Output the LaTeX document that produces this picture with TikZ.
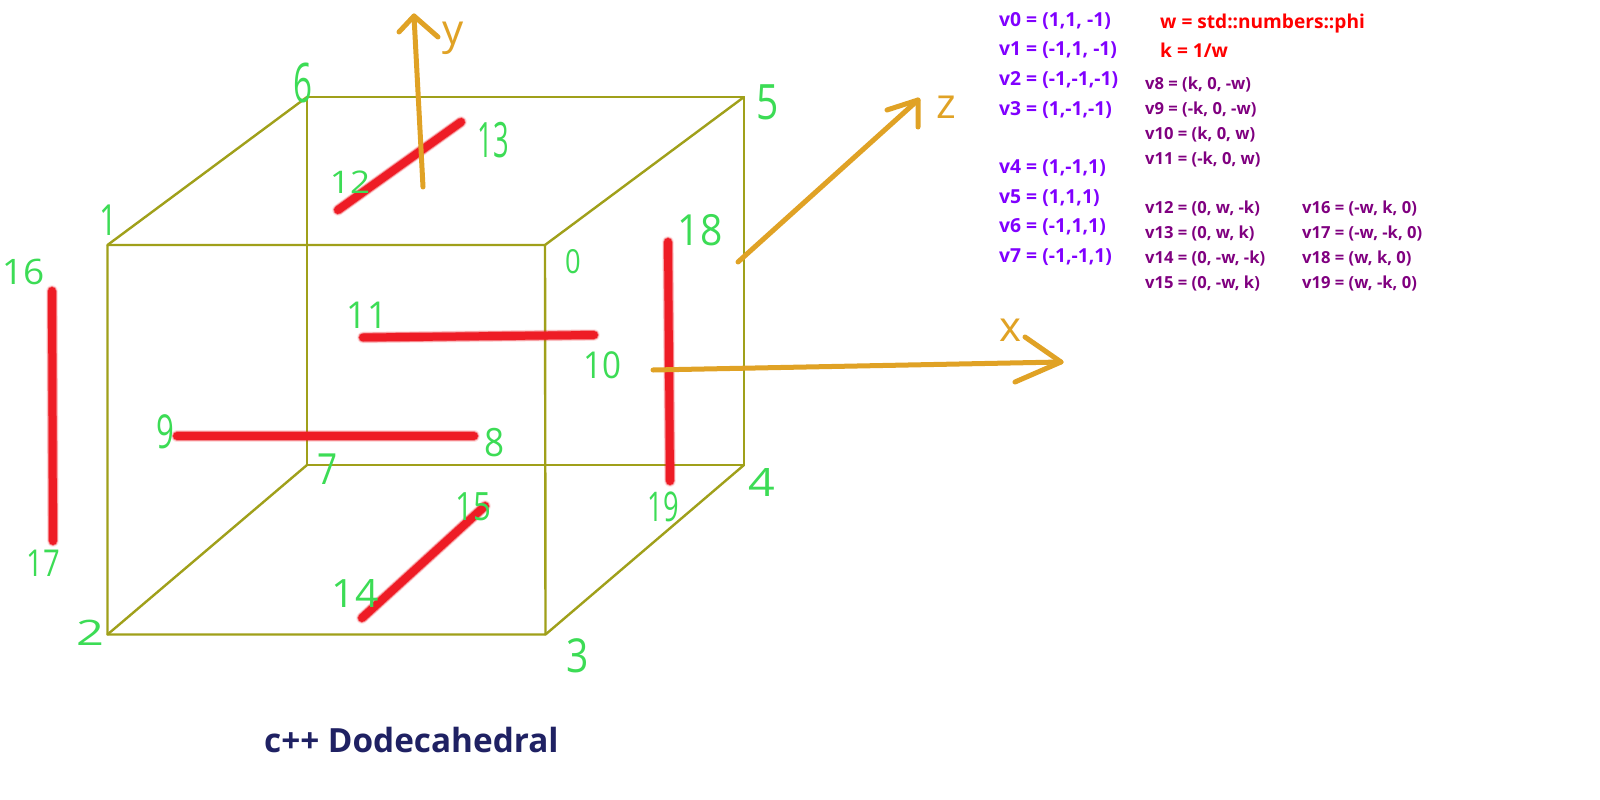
\documentclass[tikz,border=0pt]{standalone}
\usepackage{graphicx}
\usepackage{fontspec}
\setmainfont{Open Sans}
\newcommand{\dgt}[3]{\scalebox{#1}[#2]{#3}}
\begin{document}
\begin{tikzpicture}[x=1pt,y=-1pt,
  edge/.style={draw=cubeol,line width=2.4pt,line cap=round,line join=round},
  redglowa/.style={draw=redbar,line width=11.5pt,line cap=round,opacity=0.15},
  redglowb/.style={draw=redbar,line width=9.8pt,line cap=round,opacity=0.45},
  redcore/.style={draw=redbar,line width=8pt,line cap=round},
  axis/.style={draw=axisor,line width=5pt,line cap=round,line join=round},
  axlabel/.style={text=axisor,font=\fontsize{42}{42}\selectfont,inner sep=0pt},
  digit/.style={text=digitgr,font=\fontsize{39}{40}\selectfont,inner sep=0pt},
  vmain/.style={anchor=base west,inner sep=0pt,text=vpurple,font=\fontsize{19.3}{22}\selectfont\bfseries},
  vred/.style={anchor=base west,inner sep=0pt,text=red,font=\fontsize{19.1}{22}\selectfont\bfseries},
  vsub/.style={anchor=base west,inner sep=0pt,text=vdark,font=\fontsize{16.6}{18}\selectfont\bfseries},
  title/.style={anchor=base west,inner sep=0pt,text=titleblue,font=\fontsize{33.3}{36}\selectfont\bfseries}]
\definecolor{cubeol}{HTML}{A0A01A}
\definecolor{redbar}{HTML}{EE1C25}
\definecolor{axisor}{HTML}{E0A225}
\definecolor{digitgr}{HTML}{3CDC55}
\definecolor{vpurple}{HTML}{8000FF}
\definecolor{vdark}{HTML}{800080}
\definecolor{titleblue}{HTML}{1F2163}
\useasboundingbox[fill=white] (0,0) rectangle (1600,800);
% cube corners
\coordinate (c0) at (545,245);
\coordinate (c1) at (107.5,245);
\coordinate (c2) at (107.5,634.5);
\coordinate (c3) at (545.5,634.5);
\coordinate (c4) at (744,465);
\coordinate (c5) at (744,97);
\coordinate (c6) at (307,97);
\coordinate (c7) at (307,465);
\draw[edge] (c1) -- (c0) -- (c3) -- (c2) -- cycle;
\draw[edge] (c6) -- (c5) -- (c4) -- (c7) -- cycle;
\draw[edge] (c1) -- (c6);
\draw[edge] (c0) -- (c5);
\draw[edge] (c2) -- (c7);
\draw[edge] (c3) -- (c4);
% red bars
\coordinate (r16) at (52,291);
\coordinate (r17) at (53,541);
\coordinate (r9) at (177,436);
\coordinate (r8) at (474,436);
\coordinate (r11) at (363,337.5);
\coordinate (r10) at (594,335);
\coordinate (r18) at (668,242);
\coordinate (r19) at (670,481);
\coordinate (r12) at (338,210);
\coordinate (r13) at (461,122);
\coordinate (r14) at (362,618);
\coordinate (r15) at (485,506);
\foreach \a/\b in {r16/r17,r9/r8,r11/r10,r18/r19,r12/r13,r14/r15}{
  \draw[redglowa] (\a) -- (\b);
  \draw[redglowb] (\a) -- (\b);
  \draw[redcore] (\a) -- (\b);
}
% axes
\coordinate (ys) at (423,187);
\coordinate (yt) at (414,16);
\coordinate (yh1) at (399,32);
\coordinate (yh2) at (438,37);
\coordinate (zs) at (738,262);
\coordinate (zt) at (918,100);
\coordinate (zh1) at (887,110);
\coordinate (zh2) at (918,127);
\coordinate (xs) at (653,370);
\coordinate (xt) at (1061,362);
\coordinate (xh1) at (1025,337);
\coordinate (xh2) at (1015,382);
\draw[axis] (ys) -- (yt);
\draw[axis] (yh1) -- (yt) -- (yh2);
\draw[axis] (zs) -- (zt);
\draw[axis] (zh1) -- (zt) -- (zh2);
\draw[axis] (xs) -- (xt);
\draw[axis] (xh1) -- (xt) -- (xh2);
\node[axlabel] (ly) at (453,38) {y};
\node[axlabel] (lz) at (946,107) {z};
\node[axlabel] (lx) at (1010,330) {x};
% digits
\node[digit] (d0) at (573,262) {\dgt{.7}{.85}{0}};
\node[digit] (d1) at (108,220) {\dgt{.8}{1.1}{1}};
\node[digit] (d2) at (90,633) {\dgt{1.25}{.9}{2}};
\node[digit] (d3) at (578,656) {\dgt{1}{1.2}{3}};
\node[digit] (d4) at (762,482) {\dgt{1.2}{1}{4}};
\node[digit] (d5) at (768,102) {\dgt{1}{1.25}{5}};
\node[digit] (d6) at (303,83) {\dgt{.85}{1.4}{6}};
\node[digit] (d7) at (328,469) {\dgt{.9}{1.1}{7}};
\node[digit] (d8) at (495,443) {\dgt{.9}{1}{8}};
\node[digit] (d9) at (165,432) {\dgt{.8}{1.2}{9}};
\node[digit] (d10) at (602,365) {\dgt{.85}{.95}{10}};
\node[digit] (d11) at (367,315) {\dgt{.9}{.95}{11}};
\node[digit] (d12) at (350,182) {\dgt{.9}{.8}{12}};
\node[digit] (d13) at (493,140) {\dgt{.7}{1.25}{13}};
\node[digit] (d14) at (355,593) {\dgt{1.05}{1}{14}};
\node[digit] (d15) at (473,507) {\dgt{.8}{1}{15}};
\node[digit] (d16) at (23,272) {\dgt{.95}{.9}{16}};
\node[digit] (d17) at (43,563) {\dgt{.75}{.95}{17}};
\node[digit] (d18) at (700,230) {\dgt{1}{1.1}{18}};
\node[digit] (d19) at (663,507) {\dgt{.7}{1.05}{19}};
% text
\node[vmain] (v0) at (999,27) {v0 = (1,1, -1)};
\node[vmain] (v1) at (999,56) {v1 = (-1,1, -1)};
\node[vmain] (v2) at (999,85) {v2 = (-1,-1,-1)};
\node[vmain] (v3) at (999,115) {v3 = (1,-1,-1)};
\node[vmain] (v4) at (999,173) {v4 = (1,-1,1)};
\node[vmain] (v5) at (999,203) {v5 = (1,1,1)};
\node[vmain] (v6) at (999,232) {v6 = (-1,1,1)};
\node[vmain] (v7) at (999,262) {v7 = (-1,-1,1)};
\node[vred] (w) at (1160,29) {w = std::numbers::phi};
\node[vred] (k) at (1160,58) {k = 1/w};
\node[vsub] (v8) at (1145,89) {v8 = (k, 0, -w)};
\node[vsub] (v9) at (1145,114) {v9 = (-k, 0, -w)};
\node[vsub] (v10) at (1145,139) {v10 = (k, 0, w)};
\node[vsub] (v11) at (1145,164) {v11 = (-k, 0, w)};
\node[vsub] (v12) at (1145,213) {v12 = (0, w, -k)};
\node[vsub] (v13) at (1145,238) {v13 = (0, w, k)};
\node[vsub] (v14) at (1145,263) {v14 = (0, -w, -k)};
\node[vsub] (v15) at (1145,288) {v15 = (0, -w, k)};
\node[vsub] (v16) at (1302,213) {v16 = (-w, k, 0)};
\node[vsub] (v17) at (1302,238) {v17 = (-w, -k, 0)};
\node[vsub] (v18) at (1302,263) {v18 = (w, k, 0)};
\node[vsub] (v19) at (1302,288) {v19 = (w, -k, 0)};
\node[title] (t) at (264,752) {c++ Dodecahedral};
\end{tikzpicture}
\end{document}
